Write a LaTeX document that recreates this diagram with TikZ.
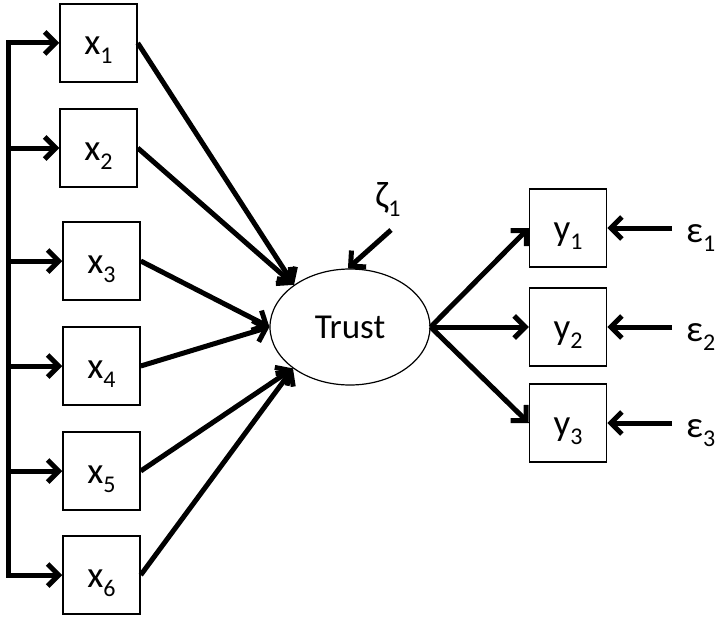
\documentclass[tikz,border=0pt]{standalone}
\usepackage{fontspec}
\setmainfont{Carlito}
\usetikzlibrary{arrows.meta,shapes.geometric}
\newcommand\sbs[1]{\raisebox{-9pt}[0pt][0pt]{\fontsize{24}{24}\selectfont #1}}
\newcommand\blab[1]{\raisebox{-12pt}[0pt][0pt]{#1}}
\begin{document}
\begin{tikzpicture}[x=1pt,y=-1pt,
  box/.style={draw,line width=1.5pt,minimum width=77pt,minimum height=78pt,inner sep=0pt,
    font=\fontsize{37}{40}\selectfont},
  lat/.style={draw,ellipse,line width=1.2pt,minimum width=160pt,minimum height=116pt,inner sep=0pt,
    font=\fontsize{35}{40}\selectfont},
  lbl/.style={inner sep=0pt,font=\fontsize{37}{40}\selectfont},
  arr/.style={line width=5pt,-{Straight Barb[length=11pt,width=22pt,line width=5pt]}},
  conn/.style={line width=5pt}]
\useasboundingbox (0,0) rectangle (722,623);
% x boxes
\node[box] (x1) at (98.5,43) {\blab{x\sbs{1}}};
\node[box] (x2) at (98.5,148) {\blab{x\sbs{2}}};
\node[box] (x3) at (101.5,261) {\blab{x\sbs{3}}};
\node[box] (x4) at (101.5,366) {\blab{x\sbs{4}}};
\node[box] (x5) at (101.5,471) {\blab{x\sbs{5}}};
\node[box] (x6) at (101.5,575) {\blab{x\sbs{6}}};
% latent
\node[lat] (T) at (350,327) {Trust};
% y boxes
\node[box] (y1) at (568,228) {\blab{y\sbs{1}}};
\node[box] (y2) at (568,327) {\blab{y\sbs{2}}};
\node[box] (y3) at (568,423) {\blab{y\sbs{3}}};
% error labels
\node[lbl,anchor=west] (e1) at (686,234) {ε\sbs{1}};
\node[lbl,anchor=west] (e2) at (686,333) {ε\sbs{2}};
\node[lbl,anchor=west] (e3) at (686,429) {ε\sbs{3}};
\node[lbl] (z) at (388,198) {ζ\sbs{1}};
% left spine
\coordinate (L) at (8,0);
\draw[conn,line cap=rect] (x1.west -| L) -- (x6.west -| L);
\foreach \i in {1,...,6}{\draw[arr] (x\i.west -| L) -- (x\i.west);}
% x to Trust
\draw[arr] (x1.east) -- (T.143);
\draw[arr] (x2.east) -- (T.143);
\draw[arr] (x3.east) -- (T.west);
\draw[arr] (x4.east) -- (T.west);
\draw[arr] (x5.east) -- (T.216);
\draw[arr] (x6.east) -- (T.216);
% zeta
\coordinate (zs) at (391,230);
\draw[arr] (zs) -- (T.92);
% Trust to y
\draw[arr] (T.east) -- (y1.west);
\draw[arr] (T.east) -- (y2.west);
\draw[arr] (T.east) -- (y3.west);
% errors
\foreach \i in {1,2,3}{\draw[arr] ([xshift=-14pt]e\i.west |- y\i.east) -- (y\i.east);}
\end{tikzpicture}
\end{document}
